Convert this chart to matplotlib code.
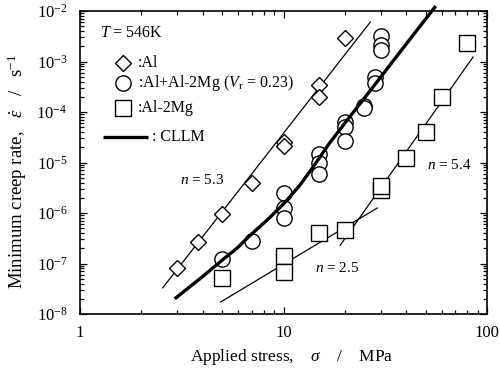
import matplotlib
matplotlib.use("Agg")
import matplotlib.pyplot as plt
import numpy as np

plt.rcParams['font.family'] = ['Liberation Serif', 'DejaVu Serif']
plt.rcParams['mathtext.fontset'] = 'custom'
plt.rcParams['mathtext.rm'] = 'Liberation Serif'
plt.rcParams['mathtext.it'] = 'Liberation Serif:italic'
plt.rcParams['mathtext.bf'] = 'Liberation Serif:bold'

# Data (stress MPa, minimum creep rate 1/s)
al_x = [3.0, 3.8, 5.0, 7.0, 10.0, 10.0, 15.0, 15.0, 20.0]
al_y = [8.1e-8, 2.7e-7, 9.5e-7, 3.9e-6, 2.55e-5, 2.1e-5, 3.4e-4, 2.0e-4, 2.9e-3]

mix_x = [5.0, 7.0, 10.0, 10.0, 10.0, 15.0, 15.0, 15.0, 20.0, 20.0, 20.0,
         25.0, 25.0, 28.3, 28.3, 30.2, 30.2, 30.2]
mix_y = [1.23e-7, 2.8e-7, 2.5e-6, 1.26e-6, 8.0e-7, 1.47e-5, 9.8e-6, 5.9e-6,
         6.3e-5, 5.0e-5, 2.7e-5, 1.3e-4, 1.2e-4, 4.9e-4, 3.75e-4,
         3.2e-3, 2.1e-3, 1.7e-3]

mg_x = [5.0, 10.0, 10.0, 15.0, 20.0, 30.0, 30.0, 40.0, 50.0, 60.0, 80.0]
mg_y = [5.2e-8, 1.4e-7, 6.8e-8, 4.0e-7, 4.6e-7, 2.9e-6, 3.5e-6, 1.23e-5,
        4.0e-5, 2.0e-4, 2.3e-3]

# Fit lines
al_line_x = [2.55, 26.7]
al_line_y = [3.3e-8, 6.05e-3]
mg54_x = [19.0, 85.4]
mg54_y = [2.3e-7, 1.23e-3]
mg25_x = [4.91, 28.9]
mg25_y = [1.73e-8, 1.26e-6]

# CLLM curve
cllm_x = [2.92, 4.0, 5.0, 5.9, 6.8, 8.5, 10.1, 12.0, 13.9, 16.8, 20.0, 25.0, 30.0, 40.0, 56.0]
cllm_y = [2.0e-8, 5.5e-8, 1.17e-7, 2.0e-7, 3.5e-7, 7.9e-7, 1.58e-6, 3.5e-6,
          7.9e-6, 2.4e-5, 6.0e-5, 1.9e-4, 4.9e-4, 2.2e-3, 1.26e-2]

yticks = [1e-8, 1e-7, 1e-6, 1e-5, 1e-4, 1e-3, 1e-2]
ytick_labels = [r'$10^{\mathrm{-8}}$', r'$10^{\mathrm{-7}}$', r'$10^{\mathrm{-6}}$',
                r'$10^{\mathrm{-5}}$', r'$10^{\mathrm{-4}}$', r'$10^{\mathrm{-3}}$',
                r'$10^{\mathrm{-2}}$']
xticks = [1, 10, 100]
xtick_labels = ['1', '10', '100']

fig = plt.figure(figsize=(5.0, 3.69), dpi=100)
ax = fig.add_axes([0.16, 0.149, 0.814, 0.821])
ax.set_xscale('log')
ax.set_yscale('log')
ax.set_xlim(1, 100)
ax.set_ylim(1e-8, 1e-2)

mk = dict(linestyle='none', markerfacecolor='white', markeredgecolor='black',
          markeredgewidth=1.0, zorder=3)
ax.plot(al_line_x, al_line_y, color='black', lw=0.9, zorder=2)
ax.plot(mg54_x, mg54_y, color='black', lw=0.9, zorder=2)
ax.plot(mg25_x, mg25_y, color='black', lw=0.9, zorder=2)
ax.plot(cllm_x, cllm_y, color='black', lw=2.4, zorder=4, clip_on=False,
        solid_capstyle='butt')

ax.plot(al_x, al_y, marker='D', markersize=8.5, **mk)
ax.plot(mix_x, mix_y, marker='o', markersize=11, **mk)
ax.plot(mg_x, mg_y, marker='s', markersize=11.5, **mk)

# Legend drawn manually
tr = ax.transAxes
fs_leg = 11.5
ax.text(0.049, 0.927, r'$T$ = 546K', transform=tr, fontsize=fs_leg, va='center', ha='left')
ax.plot([0.106], [0.828], marker='D', markersize=8.5, transform=tr, clip_on=False, **mk)
ax.text(0.1425, 0.828, ':Al', transform=tr, fontsize=fs_leg, va='center', ha='left')
ax.plot([0.106], [0.762], marker='o', markersize=11, transform=tr, clip_on=False, **mk)
ax.text(0.1425, 0.762, r':Al+Al-2Mg ($V_{\mathrm{r}}$ = 0.23)', transform=tr,
        fontsize=fs_leg, va='center', ha='left')
ax.plot([0.106], [0.680], marker='s', markersize=11.5, transform=tr, clip_on=False, **mk)
ax.text(0.1425, 0.680, ':Al-2Mg', transform=tr, fontsize=fs_leg, va='center', ha='left')
ax.plot([0.057, 0.167], [0.584, 0.584], color='black', lw=2.4, transform=tr,
        solid_capstyle='butt')
ax.text(0.177, 0.584, ': CLLM', transform=tr, fontsize=fs_leg, va='center', ha='left')

ax.text(0.246, 0.442, r'$n$ = 5.3', transform=tr, fontsize=11, va='center', ha='left')
ax.text(0.853, 0.492, r'$n$ = 5.4', transform=tr, fontsize=11, va='center', ha='left')
ax.text(0.577, 0.152, r'$n$ = 2.5', transform=tr, fontsize=11, va='center', ha='left')

ax.set_xticks(xticks)
ax.set_xticklabels(xtick_labels)
ax.set_yticks(yticks)
ax.set_yticklabels(ytick_labels)
ax.tick_params(which='both', direction='in', top=True, right=True, labelsize=12,
               width=0.9)
ax.tick_params(which='major', length=5)
ax.tick_params(axis='x', which='major', pad=8)
ax.tick_params(axis='y', which='major', pad=9)
ax.tick_params(which='minor', length=3)
for s in ax.spines.values():
    s.set_linewidth(1.2)

ax.set_xlabel(r'Applied stress,    $\sigma$    /    MPa', fontsize=12.5)
ax.set_ylabel(r'Minimum creep rate,   $\dot{\varepsilon}$   /   s$^{\mathrm{-1}}$',
              fontsize=13.5)
ax.xaxis.set_label_coords(0.52, -0.11)
ax.yaxis.set_label_coords(-0.125, 0.47)

fig.savefig('out.png', dpi=100)
